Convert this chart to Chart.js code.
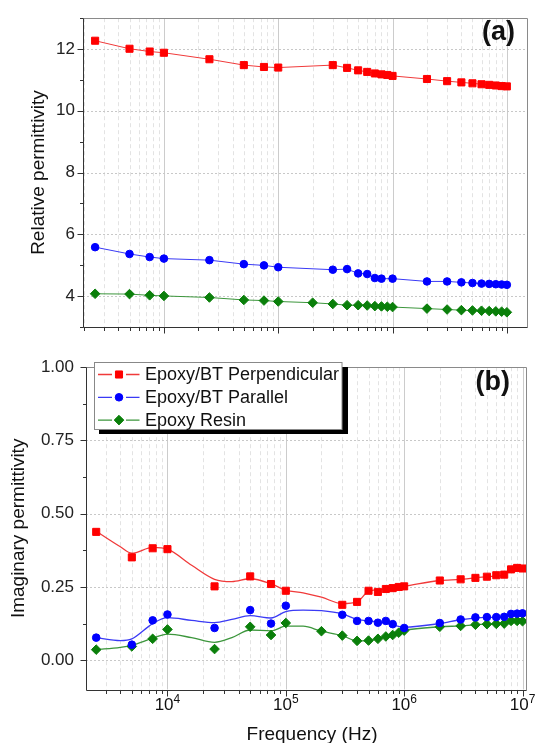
<!DOCTYPE html>
<html>
<head>
<meta charset="utf-8">
<script src="https://cdn.jsdelivr.net/npm/chart.js@4.4.0/dist/chart.umd.min.js"></script>
<style>
  body { margin: 0; background: #fff; }
  #wrap { position: relative; width: 536px; height: 743px; }
  canvas { position: absolute; left: 0; }
  #permChart { top: 0; }
  #lossChart { top: 345px; }
</style>
</head>
<body>
<div id="wrap">
  <canvas id="permChart" width="536" height="345"></canvas>
  <canvas id="lossChart" width="536" height="398"></canvas>
</div>
<script>
// Measured frequencies (Hz), shared by all series
const freqs = [2.5e3, 5e3, 7.5e3, 1e4, 2.5e4, 5e4, 7.5e4, 1e5, 2e5, 3e5, 4e5, 5e5, 6e5, 7e5, 8e5, 9e5,
  1e6, 2e6, 3e6, 4e6, 5e6, 6e6, 7e6, 8e6, 9e6, 1e7];

// (a) relative permittivity
const realPerp = [12.27, 12.01, 11.92, 11.88, 11.67, 11.48, 11.42, 11.40, null, 11.48, 11.39, 11.31, 11.26, 11.21, 11.18, 11.16,
  11.13, 11.03, 10.96, 10.92, 10.89, 10.86, 10.84, 10.82, 10.80, 10.79];
const realPar = [5.58, 5.36, 5.26, 5.21, 5.16, 5.03, 4.99, 4.93, null, 4.85, 4.87, 4.73, 4.71, 4.58, 4.56, null,
  4.56, 4.47, 4.47, 4.44, 4.42, 4.40, 4.39, 4.38, 4.37, 4.36];
const realResin = [4.07, 4.06, 4.02, 4.00, 3.95, 3.87, 3.85, 3.82, 3.78, 3.74, 3.70, 3.70, 3.69, 3.67, 3.66, 3.65,
  3.64, 3.59, 3.56, 3.54, 3.53, 3.52, 3.51, 3.50, 3.49, 3.47];

// (b) imaginary permittivity, measured points
const imagPerp = [0.438, 0.351, 0.382, 0.379, 0.252, 0.286, 0.260, 0.237, null, 0.189, 0.199, 0.237, 0.233, 0.243, 0.246, 0.250,
  0.252, 0.272, 0.276, 0.281, 0.285, 0.290, 0.292, 0.310, 0.315, 0.313];
const imagPar = [0.077, 0.053, 0.136, 0.156, 0.110, 0.171, 0.125, 0.186, null, 0.155, 0.134, 0.134, 0.128, 0.134, 0.123, null,
  0.110, 0.127, 0.139, 0.146, 0.147, 0.147, 0.148, 0.158, 0.159, 0.160];
const imagResin = [0.036, 0.047, 0.073, 0.105, 0.038, 0.114, 0.086, 0.127, 0.099, 0.084, 0.066, 0.067, 0.073, 0.081, 0.086, 0.094,
  0.101, 0.114, 0.117, 0.121, 0.123, 0.124, 0.125, 0.134, 0.134, 0.133];

// (b) smoothed fit curves
const curveFreqs = [2.5e3, 4e3, 5e3, 7.5e3, 1e4, 1.6e4, 2.5e4, 3.5e4, 5e4, 7.5e4, 1e5, 1.4e5, 2e5, 3e5, 4e5, 5e5, 7e5,
  1e6, 2e6, 3e6, 5e6, 7e6, 8e6, 1e7];
const curvePerp = [0.440, 0.387, 0.365, 0.385, 0.379, 0.324, 0.276, 0.268, 0.278, 0.261, 0.239, 0.230, 0.215, 0.193, 0.199, 0.235, 0.243,
  0.252, 0.272, 0.276, 0.285, 0.292, 0.309, 0.313];
const curvePar = [0.077, 0.067, 0.073, 0.125, 0.145, 0.136, 0.128, 0.139, 0.152, 0.144, 0.166, 0.171, 0.169, 0.158, 0.139, 0.134, 0.127,
  0.113, 0.125, 0.138, 0.146, 0.148, 0.157, 0.160];
const curveResin = [0.036, 0.044, 0.051, 0.075, 0.089, 0.077, 0.061, 0.077, 0.103, 0.100, 0.116, 0.116, 0.099, 0.084, 0.066, 0.067, 0.081,
  0.101, 0.114, 0.117, 0.123, 0.125, 0.132, 0.133];

// Ticks
const xTicks = [2e3, 3e3, 4e3, 5e3, 6e3, 7e3, 8e3, 9e3, 1e4, 2e4, 3e4, 4e4, 5e4, 6e4, 7e4, 8e4, 9e4, 1e5,
  2e5, 3e5, 4e5, 5e5, 6e5, 7e5, 8e5, 9e5, 1e6, 2e6, 3e6, 4e6, 5e6, 6e6, 7e6, 8e6, 9e6, 1e7];
const xLabelExps = [4, 5, 6, 7];
const realTicks = [3, 4, 5, 6, 7, 8, 9, 10, 11, 12, 13];
const imagTicks = [0, 0.125, 0.25, 0.375, 0.5, 0.625, 0.75, 0.875, 1.0];

const seriesNames = ['Epoxy/BT Perpendicular', 'Epoxy/BT Parallel', 'Epoxy Resin'];
const FONT = '"Liberation Sans", Arial, sans-serif';
const RED = '#ff0000', BLUE = '#0000ff', GREEN = '#0a7f0a';

function toPoints(xs, ys) {
  return xs.map((x, i) => ({ x, y: ys[i] })).filter(p => p.y !== null);
}

function isDecade(v) {
  const l = Math.log10(v);
  return Math.abs(l - Math.round(l)) < 1e-9;
}

// grid, frame, tick marks and texts drawn around the chart area
const frame = {
  id: 'frame',
  beforeDatasetsDraw(chart) {
    const { ctx, chartArea: a, scales: { x, y } } = chart;
    ctx.save();
    ctx.lineWidth = 1;
    x.ticks.forEach(t => {
      const px = Math.round(x.getPixelForValue(t.value)) + 0.5;
      const dec = isDecade(t.value);
      ctx.strokeStyle = dec ? '#cccccc' : '#e3e3e3';
      ctx.setLineDash(dec ? [] : [4, 3]);
      ctx.beginPath(); ctx.moveTo(px, a.top); ctx.lineTo(px, a.bottom); ctx.stroke();
    });
    ctx.strokeStyle = '#c8c8c8';
    ctx.setLineDash([2, 2]);
    y.ticks.forEach(t => {
      if (!t.label) return;
      const py = Math.round(y.getPixelForValue(t.value)) + 0.5;
      ctx.beginPath(); ctx.moveTo(a.left, py); ctx.lineTo(a.right, py); ctx.stroke();
    });
    ctx.restore();
  },
  afterDraw(chart, args, opts) {
    const { ctx, chartArea: a, scales: { x, y } } = chart;
    ctx.save();
    ctx.lineWidth = 1;
    ctx.setLineDash([]);
    const L = Math.round(a.left) + 0.5, R = Math.round(a.right) + 0.5;
    const T = Math.round(a.top) + 0.5, B = Math.round(a.bottom) + 0.5;
    ctx.strokeStyle = '#8a8a8a';
    ctx.beginPath(); ctx.moveTo(L, T); ctx.lineTo(R, T); ctx.lineTo(R, B); ctx.stroke();
    ctx.strokeStyle = '#333';
    ctx.beginPath(); ctx.moveTo(L, T); ctx.lineTo(L, B); ctx.lineTo(R, B); ctx.stroke();
    // tick marks
    x.ticks.forEach(t => {
      const px = Math.round(x.getPixelForValue(t.value)) + 0.5;
      const len = isDecade(t.value) ? 6 : 3.5;
      ctx.beginPath(); ctx.moveTo(px, B); ctx.lineTo(px, B + len); ctx.stroke();
    });
    y.ticks.forEach(t => {
      const py = Math.round(y.getPixelForValue(t.value)) + 0.5;
      const len = t.label ? 6 : 3.5;
      ctx.beginPath(); ctx.moveTo(L, py); ctx.lineTo(L - len, py); ctx.stroke();
    });
    // y title
    ctx.fillStyle = '#111';
    ctx.font = '19px ' + FONT;
    ctx.textAlign = 'center';
    ctx.textBaseline = 'middle';
    ctx.save();
    ctx.translate(opts.yTitleX, (a.top + a.bottom) / 2);
    ctx.rotate(-Math.PI / 2);
    ctx.fillText(opts.yTitle, 0, 0);
    ctx.restore();
    // panel label
    ctx.font = 'bold 27px ' + FONT;
    ctx.textAlign = 'right';
    ctx.textBaseline = 'alphabetic';
    ctx.fillText(opts.panel, opts.panelX, opts.panelY);
    // x tick labels and title
    if (opts.xLabels) {
      xLabelExps.forEach(e => {
        const px = x.getPixelForValue(Math.pow(10, e));
        ctx.font = '17px ' + FONT;
        const w1 = ctx.measureText('10').width;
        ctx.font = '12px ' + FONT;
        const w2 = ctx.measureText(String(e)).width;
        const x0 = px - (w1 + w2) / 2;
        ctx.textAlign = 'left';
        ctx.font = '17px ' + FONT;
        ctx.fillText('10', x0, B + 19);
        ctx.font = '12px ' + FONT;
        ctx.fillText(String(e), x0 + w1, B + 12);
      });
      ctx.font = '19px ' + FONT;
      ctx.textAlign = 'center';
      ctx.fillText('Frequency (Hz)', 312, B + 49);
    }
    ctx.restore();
  }
};

// boxed legend with a drop shadow, panel (b)
const legendBox = {
  id: 'legendBox',
  afterDraw(chart) {
    const ctx = chart.ctx;
    const items = chart.data.datasets.filter(d => d.label);
    ctx.save();
    ctx.fillStyle = '#000';
    ctx.fillRect(99, 22, 249, 67);
    ctx.fillStyle = '#fff';
    ctx.fillRect(94, 17.5, 248, 67.5);
    ctx.strokeStyle = '#888';
    ctx.lineWidth = 1;
    ctx.strokeRect(94.5, 17.5, 247.5, 67);
    items.forEach((d, i) => {
      const cy = 29.5 + i * 22.8;
      ctx.strokeStyle = d.lineColor;
      ctx.lineWidth = 1.3;
      ctx.beginPath();
      ctx.moveTo(98, cy); ctx.lineTo(112, cy);
      ctx.moveTo(126, cy); ctx.lineTo(139.5, cy);
      ctx.stroke();
      ctx.fillStyle = d.pointBackgroundColor;
      ctx.strokeStyle = d.pointBorderColor;
      ctx.lineWidth = 1;
      Chart.helpers.drawPoint(ctx, { pointStyle: d.pointStyle, radius: d.pointRadius, rotation: 0, borderWidth: 1 }, 119, cy);
      ctx.fillStyle = '#111';
      ctx.font = '18px ' + FONT;
      ctx.textAlign = 'left';
      ctx.textBaseline = 'middle';
      ctx.fillText(d.label, 145, cy + 1);
    });
    ctx.restore();
  }
};

function markerSet(label, pts, color, lineColor, style, r, showLine) {
  return {
    label, data: pts, showLine, order: 1,
    borderColor: lineColor, lineColor, borderWidth: 1, tension: 0,
    pointStyle: style, pointRadius: r, pointHoverRadius: r,
    pointBackgroundColor: color, pointBorderColor: color, pointBorderWidth: 1
  };
}

function curveSet(pts, color) {
  return {
    label: '', data: pts, order: 2, borderColor: color, borderWidth: 1.3,
    pointRadius: 0, cubicInterpolationMode: 'monotone', fill: false
  };
}

function xScale(min, max, height) {
  return {
    type: 'logarithmic', min, max,
    afterBuildTicks: s => { s.ticks = xTicks.filter(v => v >= s.min && v <= s.max).map(v => ({ value: v })); },
    afterFit: s => { s.height = height; },
    ticks: { display: false },
    grid: { display: false },
    border: { display: false }
  };
}

function yScale(min, max, tickVals, fmt, width, pad) {
  return {
    type: 'linear', min, max,
    afterBuildTicks: s => { s.ticks = tickVals.map(v => ({ value: v })); },
    afterFit: s => { s.width = width; },
    ticks: { callback: fmt, font: { family: FONT, size: 17 }, color: '#222', padding: pad, autoSkip: false },
    grid: { display: false, drawTicks: false },
    border: { display: false }
  };
}

new Chart(document.getElementById('permChart'), {
  type: 'line',
  data: {
    datasets: [
      markerSet(seriesNames[0], toPoints(freqs, realPerp), RED, '#f03a3a', 'rect', 5, true),
      markerSet(seriesNames[1], toPoints(freqs, realPar), BLUE, '#3a3af5', 'circle', 3.8, true),
      markerSet(seriesNames[2], toPoints(freqs, realResin), GREEN, '#3c963c', 'rectRot', 4.8, true)
    ]
  },
  options: {
    responsive: false, animation: false,
    layout: { padding: { top: 15, right: 9, left: 0, bottom: 0 } },
    plugins: {
      legend: { display: false }, tooltip: { enabled: false },
      frame: { yTitle: 'Relative permittivity', yTitleX: 39, panel: '(a)', panelX: 515, panelY: 40, xLabels: false }
    },
    scales: {
      x: xScale(1959, 1.5e7, 13),
      y: yScale(3, 13, realTicks, v => (v % 2 === 0 ? String(v) : ''), 83, 8)
    }
  },
  plugins: [frame]
});

new Chart(document.getElementById('lossChart'), {
  type: 'line',
  data: {
    datasets: [
      markerSet(seriesNames[0], toPoints(freqs, imagPerp), RED, '#f03a3a', 'rect', 5, false),
      markerSet(seriesNames[1], toPoints(freqs, imagPar), BLUE, '#3a3af5', 'circle', 3.8, false),
      markerSet(seriesNames[2], toPoints(freqs, imagResin), GREEN, '#3c963c', 'rectRot', 4.8, false),
      curveSet(toPoints(curveFreqs, curvePerp), '#f03a3a'),
      curveSet(toPoints(curveFreqs, curvePar), '#3a3af5'),
      curveSet(toPoints(curveFreqs, curveResin), '#3c963c')
    ]
  },
  options: {
    responsive: false, animation: false,
    layout: { padding: { top: 12.5, right: 10, left: 0, bottom: 0 } },
    plugins: {
      legend: { display: false }, tooltip: { enabled: false },
      frame: { yTitle: 'Imaginary permittivity', yTitleX: 19, panel: '(b)', panelX: 510, panelY: 45, xLabels: true }
    },
    scales: {
      x: xScale(2050, 1.07e7, 53.5),
      y: yScale(-0.1, 1.0, imagTicks, v => {
        const q = v / 0.25;
        return Math.abs(q - Math.round(q)) < 1e-9 ? v.toFixed(2) : '';
      }, 86, 12)
    }
  },
  plugins: [frame, legendBox]
});
</script>
</body>
</html>
